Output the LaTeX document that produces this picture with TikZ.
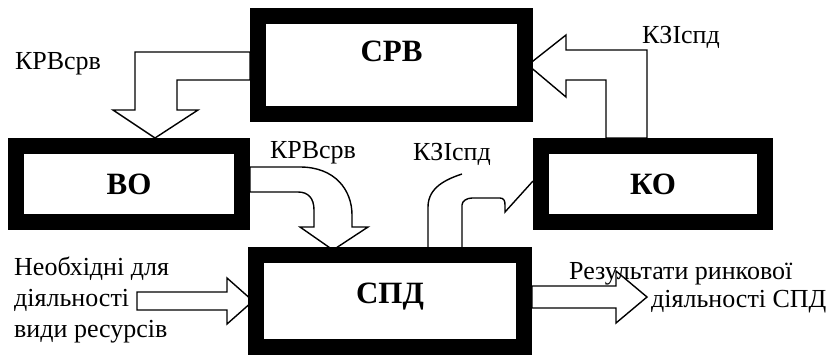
\documentclass[tikz,border=0pt]{standalone}
\usepackage{fontspec}
\setmainfont{Liberation Serif}
\usetikzlibrary{calc}
\begin{document}
\begin{tikzpicture}[x=1pt,y=-1pt,
  box/.style={draw, line width=16pt, inner sep=0pt, outer sep=8pt,
    font=\fontsize{31}{33}\bfseries\selectfont, text height=20.5pt, text depth=0pt},
  blk/.style={draw, fill=white, line width=1.4pt, line join=miter},
  blkline/.style={draw, line width=1.4pt, line join=miter},
  lbl/.style={font=\fontsize{26}{30}\selectfont, inner sep=0pt},
]
\useasboundingbox[fill=white] (0,0) rectangle (829,357);
% box placement coordinates (nodes drawn later on top of arrows)
\path (391.5,65) node[box, draw=none, minimum width=267pt, minimum height=98pt, text depth=28pt] (srv) {\phantom{СРВ}};
\path (129,184) node[box, draw=none, minimum width=226pt, minimum height=76pt] (vo) {\phantom{ВО}};
\path (653,184) node[box, draw=none, minimum width=224pt, minimum height=76pt] (ko) {\phantom{КО}};
\path (390,301) node[box, draw=none, minimum width=268pt, minimum height=92pt, text depth=16pt] (spd) {\phantom{СПД}};
% block arrows
\draw[blk] ($(srv.west)+(0,-13)$) -- ++(-115,0) -- ++(0,58) -- ++(-22,0)
  -- ($(vo.north)+(26,0)$) -- ++(43,-28) -- ++(-21,0) -- ++(0,-30)
  -- ($(srv.west)+(0,15)$) -- cycle;
\draw[blk] ($(ko.north)+(-6,0)$) -- ++(0,-88) -- ++(-81,0) -- ++(0,-15)
  -- ($(srv.east)+(-5,0)$) -- ++(38,32) -- ++(0,-17) -- ++(40,0)
  -- ($(ko.north)+(-47,0)$) -- cycle;
\draw[blk] ($(vo.east)+(0,-17)$) -- ++(50,0) .. controls +(35,0) and +(0,-25) .. ++(52,48)
  -- ++(0,12) -- ++(16,0) -- ($(spd.north)+(-57,3)$) -- ++(-33,-23) -- ++(14,0)
  -- ++(0,-17) .. controls +(0,-12) and +(10,0) .. ++(-16,-18)
  -- ($(vo.east)+(0,8)$) -- cycle;
\draw[blkline] ($(spd.north)+(38,0)$) -- ++(0,-40) .. controls +(0,-20) and +(-15,5) .. ++(34,-33);
\draw[blkline] ($(spd.north)+(72,0)$) -- ++(0,-42) .. controls +(0,-4) and +(-5,0) .. ++(10,-7)
  -- ++(28,0) .. controls +(4,0) and +(0,-4) .. ++(5,7) -- ++(0,7) -- ($(ko.west)+(0,-3)$);
\coordinate (inl) at (137,292);
\draw[blk] (inl) -- ++(90,0) -- ++(0,-14) -- ($(spd.west)+(5,0)$) -- ++(-26,23) -- ++(0,-14) -- ++(-90,0) -- cycle;
\coordinate (outtip) at (647,297);
\draw[blk] ($(spd.east)+(0,-15)$) -- ++(84,0) -- ++(0,-15) -- (outtip) -- ++(-31,26) -- ++(0,-15)
  -- ($(spd.east)+(0,7)$) -- cycle;
% boxes
\node[box, minimum width=267pt, minimum height=98pt, text depth=28pt] at (srv.center) {СРВ};
\node[box, minimum width=226pt, minimum height=76pt] at (vo.center) {ВО};
\node[box, minimum width=224pt, minimum height=76pt] at (ko.center) {КО};
\node[box, minimum width=268pt, minimum height=92pt, text depth=16pt] at (spd.center) {СПД};
% labels
\node[lbl] (l1) at (58,64) {КРВсрв};
\node[lbl] (l2) at (681,37) {КЗІспд};
\node[lbl] (l3) at (313,153) {КРВсрв};
\node[lbl] (l4) at (452,154) {КЗІспд};
\node[lbl, align=left, anchor=north west, font=\fontsize{26}{31}\selectfont] (inp) at (14,257) {Необхідні для\\діяльності\\види ресурсів};
\node[lbl, align=left, anchor=north west, font=\fontsize{26}{28}\selectfont] (outl) at (569,262) {Результати ринкової\\\hspace*{82pt}діяльності СПД};
\end{tikzpicture}
\end{document}
